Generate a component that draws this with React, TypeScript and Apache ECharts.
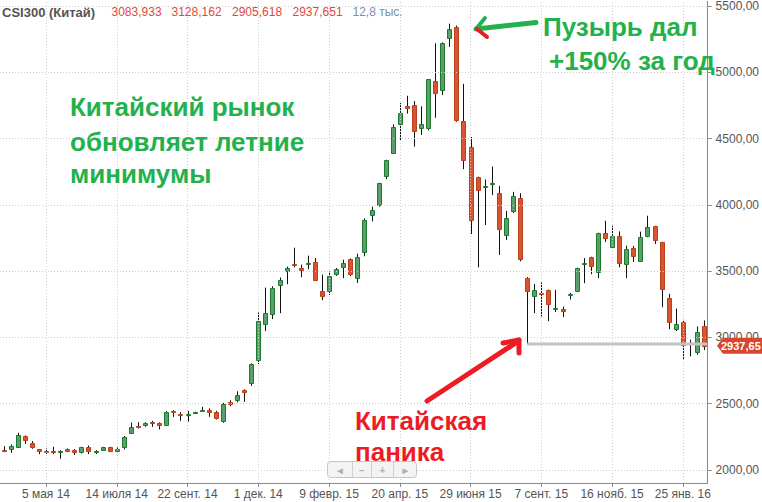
import React, { useEffect, useRef } from 'react';
import * as echarts from 'echarts';

// Weekly CSI300 candles, first week starts 2014-03-24
const OPEN = [2150, 2160, 2175, 2258, 2206, 2155, 2143, 2143, 2135, 2158, 2150, 2133, 2170, 2135, 2153, 2170, 2145, 2170, 2276, 2331,
  2341, 2361, 2358, 2341, 2444, 2426, 2416, 2434, 2446, 2451, 2439, 2371, 2511, 2531, 2607, 2657, 2832, 3101, 3176, 3394,
  3499, 3554, 3524, 3552, 3569, 3351, 3349, 3477, 3529, 3594, 3447, 3642, 3923, 3998, 4214, 4394, 4612, 4743, 4750, 4582,
  4582, 4938, 4870, 5262, 5344, 4630, 4437, 4211, 4138, 4156, 4088, 3772, 3953, 4051, 3452, 3314, 3336, 3359, 3213, 3218,
  3321, 3349, 3557, 3607, 3494, 3788, 3680, 3765, 3554, 3677, 3577, 3765, 3840, 3720, 3294, 3063, 3118, 2950, 2890, 3083.933];
const HIGH = [2180, 2193, 2281, 2261, 2218, 2157, 2163, 2175, 2150, 2163, 2158, 2175, 2185, 2150, 2175, 2175, 2170, 2256, 2358, 2361,
  2361, 2371, 2360, 2444, 2451, 2436, 2446, 2440, 2476, 2464, 2446, 2506, 2526, 2594, 2609, 2805, 3188, 3376, 3386, 3452,
  3534, 3677, 3549, 3617, 3599, 3474, 3497, 3524, 3587, 3596, 3632, 3898, 3986, 4166, 4340, 4607, 4768, 4823, 4783, 4743,
  4948, 5219, 5226, 5367, 5352, 4913, 4512, 4213, 4191, 4289, 4143, 3955, 4098, 4088, 3456, 3404, 3414, 3361, 3359, 3233,
  3336, 3526, 3599, 3609, 3790, 3880, 3843, 3800, 3692, 3690, 3798, 3918, 3842, 3722, 3329, 3218, 3133, 2983, 3083, 3128.162];
const LOW = [2135, 2130, 2170, 2196, 2160, 2120, 2120, 2120, 2085, 2135, 2113, 2125, 2120, 2120, 2145, 2138, 2135, 2155, 2271, 2313,
  2326, 2326, 2306, 2341, 2401, 2371, 2364, 2432, 2439, 2401, 2381, 2356, 2481, 2511, 2514, 2634, 2800, 3048, 3138, 3183,
  3401, 3529, 3454, 3514, 3426, 3281, 3321, 3464, 3447, 3462, 3411, 3612, 3875, 3986, 4194, 4394, 4482, 4688, 4439, 4527,
  4562, 4657, 4828, 5191, 4627, 4269, 3780, 3529, 3848, 4073, 3622, 3735, 3938, 3574, 2950, 3183, 3158, 3123, 3191, 3153,
  3286, 3341, 3409, 3477, 3447, 3720, 3670, 3529, 3447, 3569, 3574, 3755, 3705, 3228, 3063, 3048, 2832, 2857, 2870, 2905.618];
const CLOSE = [2140, 2180, 2261, 2226, 2170, 2145, 2133, 2133, 2145, 2145, 2133, 2170, 2140, 2145, 2170, 2145, 2158, 2251, 2321, 2321,
  2351, 2351, 2341, 2439, 2434, 2416, 2426, 2439, 2456, 2441, 2396, 2501, 2501, 2569, 2592, 2802, 3121, 3188, 3374, 3434,
  3524, 3544, 3509, 3564, 3431, 3314, 3464, 3517, 3562, 3477, 3609, 3885, 3960, 4164, 4337, 4585, 4690, 4733, 4560, 4607,
  4946, 4840, 5224, 5329, 4637, 4337, 3885, 4111, 4143, 4164, 3818, 3900, 4066, 3589, 3349, 3359, 3326, 3254, 3223, 3203,
  3329, 3524, 3564, 3539, 3788, 3750, 3765, 3559, 3667, 3614, 3755, 3835, 3732, 3366, 3116, 3103, 2946, 2958, 3043, 2937.651];

const Y_TICKS = [2000, 2500, 3000, 3500, 4000, 4500, 5000, 5500];
const MONTHS_RU = ['янв.', 'февр.', 'марта', 'апр.', 'мая', 'июня', 'июля', 'авг.', 'сент.', 'окт.', 'нояб.', 'дек.'];
const FIRST_WEEK = [2014, 2, 24];
const HOLIDAY_WEEKS = ['2016-02-08'];
const LABEL_FIRST = 6;
const LABEL_STEP = 10;

const TITLE = 'CSI300 (Китай)';
const HEADER_VALUES = ['3083,933', '3128,162', '2905,618', '2937,651'];
const VOLUME = '12,8 тыс.';
const SUPPORT_START = 74;
const SUPPORT_LEVEL = 2950;
const LAST_PRICE = 2937.65;
const LAST_PRICE_LABEL = '2937,65';

const NOTE_LEFT = ['Китайский рынок', 'обновляет летние', 'минимумы'];
const NOTE_TOP = ['Пузырь дал', '+150% за год'];
const NOTE_PANIC = ['Китайская', 'паника'];

function buildWeeks(n: number): string[] {
  const out: string[] = [];
  const d = new Date(Date.UTC(FIRST_WEEK[0], FIRST_WEEK[1], FIRST_WEEK[2]));
  while (out.length < n) {
    const s = d.toISOString().slice(0, 10);
    if (HOLIDAY_WEEKS.indexOf(s) < 0) out.push(s);
    d.setUTCDate(d.getUTCDate() + 7);
  }
  return out;
}

function fmtDate(s: string): string {
  const [y, m, d] = s.split('-').map(Number);
  return `${d} ${MONTHS_RU[m - 1]} ${String(y).slice(2)}`;
}

const FONT = '"Liberation Sans", Arial, sans-serif';
const GREEN = '#22b14c';
const RED = '#ed1c24';

export default function App() {
  const ref = useRef<HTMLDivElement>(null);
  useEffect(() => {
    if (!ref.current) return;
    const chart = echarts.init(ref.current, null, { renderer: 'svg' });
    const weeks = buildWeeks(OPEN.length);
    const data = OPEN.map((o, i) => [i, o, CLOSE[i], LOW[i], HIGH[i]]);
    const showIdx = (idx: number) => idx >= LABEL_FIRST && (idx - LABEL_FIRST) % LABEL_STEP === 0;
    const vLines = weeks.filter((_, i) => showIdx(i)).map((w) => ({ xAxis: w }));
    const hLines = Y_TICKS.map((v) => ({ yAxis: v }));
    const gridStyle = { color: '#cfcfcf', type: [1, 2] as any, width: 1 };

    chart.setOption({
      animation: false,
      backgroundColor: '#ffffff',
      grid: { left: 0, right: 46, top: 0, bottom: 19, containLabel: false },
      xAxis: {
        type: 'category',
        data: weeks,
        boundaryGap: true,
        axisLine: { show: true, lineStyle: { color: '#8a8a8a' } },
        axisTick: { show: true, alignWithLabel: true, interval: (i: number) => showIdx(i), length: 4, lineStyle: { color: '#8a8a8a' } },
        axisLabel: { interval: (i: number) => showIdx(i), formatter: (v: string) => fmtDate(v), color: '#555', fontSize: 12, fontFamily: FONT, margin: 5 },
        splitLine: { show: false },
      },
      yAxis: {
        type: 'value',
        position: 'right',
        min: 1902,
        max: 5535,
        minInterval: 500,
        maxInterval: 500,
        splitLine: { show: false },
        axisLine: { show: true, lineStyle: { color: '#8a8a8a' } },
        axisTick: { show: true, length: 4, lineStyle: { color: '#8a8a8a' }, customValues: Y_TICKS },
        axisLabel: {
          customValues: Y_TICKS,
          color: '#555', fontSize: 12, fontFamily: FONT, margin: 8,
          formatter: (v: number) => v.toFixed(2).replace('.', ','),
        },
      },
      series: [
        {
          type: 'line',
          data: [],
          silent: true,
          z: 1,
          markLine: {
            silent: true, symbol: ['none', 'none'], label: { show: false },
            lineStyle: gridStyle, emphasis: { disabled: true },
            data: [...vLines, ...hLines],
          },
        },
        {
          type: 'custom',
          z: 3,
          data,
          encode: { x: 0, y: [1, 2, 3, 4] },
          renderItem: (params: any, api: any) => {
            const i = api.value(0);
            const o = api.value(1), c = api.value(2), l = api.value(3), h = api.value(4);
            const pO = api.coord([i, o]);
            const pC = api.coord([i, c]);
            const pL = api.coord([i, l]);
            const pH = api.coord([i, h]);
            const up = c >= o;
            const left = Math.round(pO[0] - 2);
            const cx = left + 2.5;
            const top = Math.round(Math.min(pO[1], pC[1]));
            const bot = Math.round(Math.max(pO[1], pC[1]));
            const hgt = Math.max(1, bot - top);
            return {
              type: 'group',
              children: [
                { type: 'line', shape: { x1: cx, y1: pH[1], x2: cx, y2: pL[1] }, style: { stroke: '#111', lineWidth: 1 } },
                {
                  type: 'rect',
                  shape: { x: left + 0.5, y: top + 0.5, width: 4, height: hgt },
                  style: { fill: up ? '#5c9e6c' : '#d9542f', stroke: up ? '#1d7a2c' : '#b9401d', lineWidth: 1 },
                },
              ],
            };
          },
        },
      ],
    });

    const toPx = (x: number, y: number) => chart.convertToPixel({ xAxisIndex: 0, yAxisIndex: 0 }, [x, y]) as number[];
    const pS = toPx(SUPPORT_START, SUPPORT_LEVEL);
    const pE = toPx(OPEN.length - 1, SUPPORT_LEVEL);
    const pLast = toPx(OPEN.length - 1, LAST_PRICE);
    const axisX = chart.getWidth() - 46;
    const ty = pLast[1];

    const text = (t: string, x: number, y: number, fill: string, font: string, extra: any = {}) => ({
      type: 'text', z: 20, x, y,
      style: { text: t, fill, font, verticalAlign: 'middle', align: 'left', ...extra },
    });
    const seg = (x1: number, y1: number, x2: number, y2: number, stroke: string, w: number) => ({
      type: 'line', z: 20, shape: { x1, y1, x2, y2 }, style: { stroke, lineWidth: w, lineCap: 'round' },
    });

    const headerX = [111.5, 171.5, 232, 292.5];
    const big = `bold 26px ${FONT}`;

    chart.setOption({
      graphic: [
        // support line from the August low
        { type: 'line', z: 15, shape: { x1: pS[0], y1: pS[1], x2: pE[0] + 3, y2: pE[1] }, style: { stroke: '#c4c4c4', lineWidth: 3 } },
        // last price tag
        {
          type: 'polygon', z: 16,
          shape: { points: [[axisX + 1, ty], [axisX + 7, ty - 8], [762, ty - 8], [762, ty + 8], [axisX + 7, ty + 8]] },
          style: { fill: '#d8462d' },
        },
        text(LAST_PRICE_LABEL, axisX + 5, ty + 0.5, '#ffffff', `bold 11px ${FONT}`),
        // header
        text(TITLE, 2, 12, '#555555', `bold 13px ${FONT}`),
        ...HEADER_VALUES.map((v, k) => text(v, headerX[k], 12, '#e0483b', `12px ${FONT}`)),
        text(VOLUME, 352.5, 12, '#7891ab', `12px ${FONT}`),
        // annotations
        ...NOTE_LEFT.map((t, k) => text(t, 70, [107, 141.5, 174][k], GREEN, big)),
        ...NOTE_TOP.map((t, k) => text(t, [543, 549][k], [27, 61][k], GREEN, big)),
        ...NOTE_PANIC.map((t, k) => text(t, 355, [421, 452][k], RED, big)),
        // green arrow
        seg(536, 22.5, 476, 29, GREEN, 5),
        seg(476, 29, 485, 18, GREEN, 4),
        seg(477, 29, 487, 37, RED, 4),
        // red arrow
        seg(427, 401, 517, 342, RED, 5),
        seg(519, 340, 503, 343, RED, 5),
        seg(519, 340, 519, 353, RED, 5),
        // navigator widget
        { type: 'rect', z: 18, shape: { x: 327.5, y: 461.5, width: 89, height: 16, r: 3 }, style: { fill: '#f3f3f3', stroke: '#c6c6c6', lineWidth: 1 } },
        ...[352.5, 371.5, 393.5].map((x) => ({ type: 'line', z: 19, shape: { x1: x, y1: 462, x2: x, y2: 477 }, style: { stroke: '#d0d0d0', lineWidth: 1 } })),
        ...['◄', '−', '+', '►'].map((g, k) => ({
          type: 'text', z: 19, x: [340, 362, 382.5, 405.5][k], y: 470.5,
          style: { text: g, fill: '#b0b0b0', font: `bold 10px ${FONT}`, align: 'center', verticalAlign: 'middle' },
        })),
      ],
    });

    return () => chart.dispose();
  }, []);

  return <div ref={ref} style={{ position: 'fixed', left: 0, top: 0, width: 762, height: 502, background: '#fff' }} />;
}
